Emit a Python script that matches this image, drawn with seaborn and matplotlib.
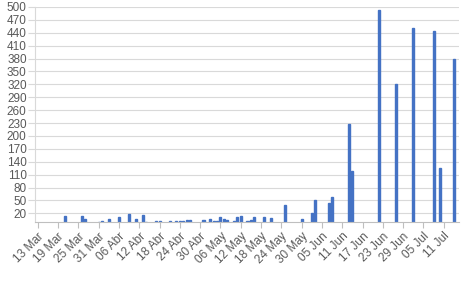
import matplotlib
matplotlib.use("Agg")
import matplotlib.pyplot as plt
import matplotlib.dates as mdates
import seaborn as sns
import pandas as pd

# ---- data ----
dates = [
    "2020-03-21", "2020-03-26", "2020-03-27", "2020-03-31", "2020-04-01",
    "2020-04-03", "2020-04-06", "2020-04-09", "2020-04-11", "2020-04-13",
    "2020-04-14", "2020-04-17", "2020-04-18", "2020-04-21", "2020-04-23",
    "2020-04-24", "2020-04-25", "2020-04-26", "2020-04-27", "2020-05-01",
    "2020-05-03", "2020-05-04", "2020-05-05", "2020-05-06", "2020-05-07",
    "2020-05-08", "2020-05-10", "2020-05-11", "2020-05-12", "2020-05-14",
    "2020-05-15", "2020-05-16", "2020-05-19", "2020-05-21", "2020-05-25",
    "2020-05-30", "2020-06-02", "2020-06-03", "2020-06-07", "2020-06-08",
    "2020-06-13", "2020-06-14", "2020-06-22", "2020-06-27", "2020-07-02",
    "2020-07-08", "2020-07-10", "2020-07-14",
]
values = [
    15, 15, 7, 1, 2,
    8, 12, 18, 8, 16,
    1, 2, 3, 3, 2,
    3, 3, 4, 4, 4,
    8, 2, 3, 12, 8,
    4, 3, 12, 15, 2,
    5, 11, 12, 9, 40,
    8, 22, 50, 45, 57,
    228, 119, 492, 321, 450,
    444, 125, 379,
]
tick_dates = [
    "2020-03-13", "2020-03-19", "2020-03-25", "2020-03-31", "2020-04-06",
    "2020-04-12", "2020-04-18", "2020-04-24", "2020-04-30", "2020-05-06",
    "2020-05-12", "2020-05-18", "2020-05-24", "2020-05-30", "2020-06-05",
    "2020-06-11", "2020-06-17", "2020-06-23", "2020-06-29", "2020-07-05",
    "2020-07-11",
]
tick_labels = [
    "13 Mar", "19 Mar", "25 Mar", "31 Mar", "06 Abr",
    "12 Abr", "18 Abr", "24 Abr", "30 Abr", "06 May",
    "12 May", "18 May", "24 May", "30 May", "05 Jun",
    "11 Jun", "17 Jun", "23 Jun", "29 Jun", "05 Jul",
    "11 Jul",
]
y_ticks = [20, 50, 80, 110, 140, 170, 200, 230, 260, 290, 320, 350,
           380, 410, 440, 470, 500]

sns.set_theme(style="white")
plt.rcParams['font.family'] = ['Liberation Sans', 'DejaVu Sans']

df = pd.DataFrame({
    "fecha": mdates.date2num(pd.to_datetime(dates)),
    "valor": values,
})

fig, ax = plt.subplots(figsize=(4.65, 2.9), dpi=100)
fig.subplots_adjust(left=0.0753, right=0.987, top=0.976, bottom=0.2345)

sns.barplot(data=df, x="fecha", y="valor", native_scale=True,
            color="#4472C4", saturation=1, width=0.6, errorbar=None, ax=ax,
            edgecolor="#4472C4", linewidth=1.0)

tick_nums = mdates.date2num(pd.to_datetime(tick_dates))
ax.set_xlim(tick_nums[0] - 0.8, tick_nums[0] + 124.5)
ax.set_ylim(0, 500)
ax.set_yticks(y_ticks)
ax.set_xticks(tick_nums)
ax.set_xticklabels(tick_labels, rotation=45, ha="right",
                   rotation_mode="anchor")
ax.set_xlabel("")
ax.set_ylabel("")

ax.set_axisbelow(True)
ax.yaxis.grid(True, color="#D9D9D9", linewidth=0.8)
ax.xaxis.grid(False)

for s in ["top", "right"]:
    ax.spines[s].set_visible(False)
ax.spines["left"].set_color("#D9D9D9")
ax.spines["left"].set_linewidth(0.8)
ax.spines["bottom"].set_color("#BFBFBF")
ax.spines["bottom"].set_linewidth(0.8)

ax.tick_params(axis="y", which="major", length=5, width=0.8,
               color="#D9D9D9", labelcolor="#595959", labelsize=8.5, pad=1,
               left=True)
ax.tick_params(axis="x", which="major", length=4, width=0.8,
               color="#BFBFBF", labelcolor="#595959", labelsize=8.5, pad=2,
               bottom=True)

fig.savefig("out.png", dpi=100)
